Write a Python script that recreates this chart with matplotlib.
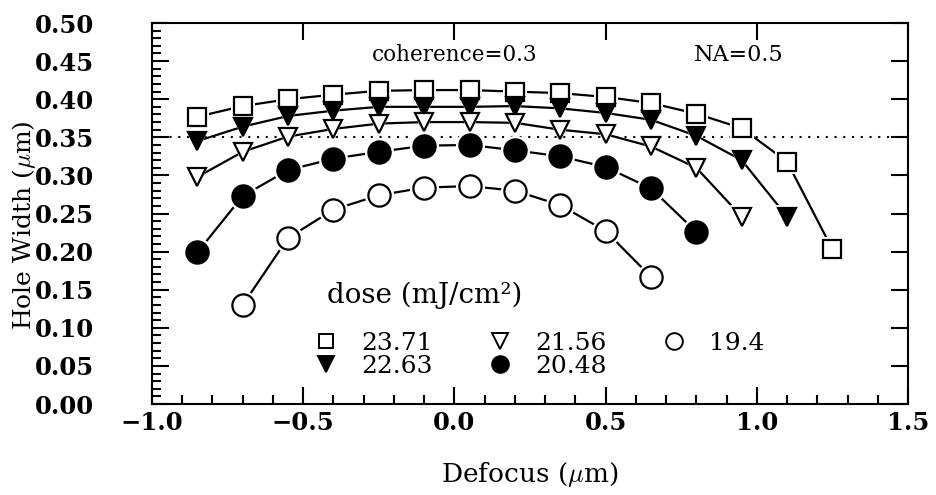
import matplotlib
matplotlib.use('Agg')
import matplotlib.pyplot as plt
from matplotlib.ticker import MultipleLocator, FuncFormatter
from matplotlib.lines import Line2D

plt.rcParams['font.family'] = ['DejaVu Serif']
plt.rcParams['mathtext.fontset'] = 'cm'

# defocus positions (um) shared by all curves
defocus = [-0.85, -0.70, -0.55, -0.40, -0.25, -0.10, 0.05, 0.20,
           0.35, 0.50, 0.65, 0.80, 0.95, 1.10, 1.25]

doses = ['23.71', '22.63', '21.56', '20.48', '19.4']

# hole width (um), one list per dose
w_2371 = [0.377, 0.391, 0.400, 0.406, 0.411, 0.412, 0.412, 0.410,
          0.408, 0.403, 0.395, 0.381, 0.362, 0.318, 0.203]
w_2263 = [0.345, 0.364, 0.378, 0.385, 0.390, 0.390, 0.390, 0.391,
          0.388, 0.382, 0.373, 0.352, 0.320, 0.246]
w_2156 = [0.298, 0.331, 0.351, 0.361, 0.368, 0.370, 0.370, 0.369,
          0.360, 0.354, 0.338, 0.310, 0.246]
w_2048 = [0.199, 0.273, 0.307, 0.322, 0.331, 0.339, 0.340, 0.333,
          0.325, 0.311, 0.283, 0.226]
w_194 = [0.130, 0.218, 0.255, 0.274, 0.284, 0.286, 0.280, 0.261,
         0.227, 0.167]

x_2371 = defocus[0:15]
x_2263 = defocus[0:14]
x_2156 = defocus[0:13]
x_2048 = defocus[0:12]
x_194 = defocus[1:11]

target = 0.35

# (x, y, marker, face, size, legend size)
curves = [
    (x_2371, w_2371, 's', 'white', 12.5, 9.5),
    (x_2263, w_2263, 'v', 'black', 12.5, 11),
    (x_2156, w_2156, 'v', 'white', 12.5, 11),
    (x_2048, w_2048, 'o', 'black', 16, 12),
    (x_194, w_194, 'o', 'white', 16, 12),
]

fig = plt.figure(figsize=(9.36, 4.95), dpi=100)
ax = fig.add_axes([0.1624, 0.1838, 0.8077, 0.7697])

ax.axhline(target, color='black', lw=1.5, ls=(0, (1, 3.2)), zorder=1)

# lines, then white halos so the lines stop short of the symbols, then symbols
for xs, ys, m, fc, ms, lms in curves:
    ax.plot(xs, ys, '-', color='black', lw=1.6, zorder=2)
for xs, ys, m, fc, ms, lms in curves:
    ax.plot(xs, ys, ls='none', marker=m, ms=ms + 5, mfc='white', mew=0, zorder=3)
for xs, ys, m, fc, ms, lms in curves:
    ax.plot(xs, ys, ls='none', marker=m, ms=ms, mfc=fc, mec='black', mew=1.6, zorder=4)

ax.set_xlim(-1.0, 1.5)
ax.set_ylim(0.0, 0.5)
ax.xaxis.set_major_locator(MultipleLocator(0.5))
ax.xaxis.set_minor_locator(MultipleLocator(0.1))
ax.yaxis.set_major_locator(MultipleLocator(0.05))
ax.yaxis.set_minor_locator(MultipleLocator(0.01))
ax.xaxis.set_major_formatter(FuncFormatter(lambda v, p: f'{v:.1f}'.replace('-', '\u2212')))
ax.yaxis.set_major_formatter(FuncFormatter(lambda v, p: f'{v:.2f}'))

ax.tick_params(which='both', direction='in', top=True, right=True, width=1.5)
ax.tick_params(which='major', length=12)
ax.tick_params(which='minor', length=6.5, top=False, right=False)
ax.tick_params(axis='y', which='major', pad=42)
ax.tick_params(axis='x', which='major', pad=5)
for lab in ax.get_xticklabels() + ax.get_yticklabels():
    lab.set_fontsize(17.5)
    lab.set_fontweight('bold')
for s in ax.spines.values():
    s.set_linewidth(1.5)

ax.set_xlabel('Defocus ($\\mu$m)', fontsize=19)
ax.set_ylabel('Hole Width ($\\mu$m)', fontsize=18)
ax.xaxis.set_label_coords(0.5, -0.148)
ax.yaxis.set_label_coords(-0.151, 0.47)

ax.text(0.0, 0.458, 'coherence=0.3', fontsize=15.5, ha='center', va='center')
ax.text(0.94, 0.458, 'NA=0.5', fontsize=16, ha='center', va='center')
ax.text(-0.421, 0.142, 'dose (mJ/cm\u00b2)', fontsize=20, ha='left', va='center')

handles = [Line2D([], [], ls='none', marker=m, ms=lms, mfc=fc, mec='black', mew=1.4)
           for xs, ys, m, fc, ms, lms in curves]
ax.legend(handles, doses, ncol=3, loc='upper left', bbox_to_anchor=(0.217, 0.19),
          frameon=False, fontsize=18, handlelength=0.8, handletextpad=1.0,
          columnspacing=2.3, labelspacing=0.0, borderpad=0, borderaxespad=0)

fig.savefig('out.png', dpi=100)
